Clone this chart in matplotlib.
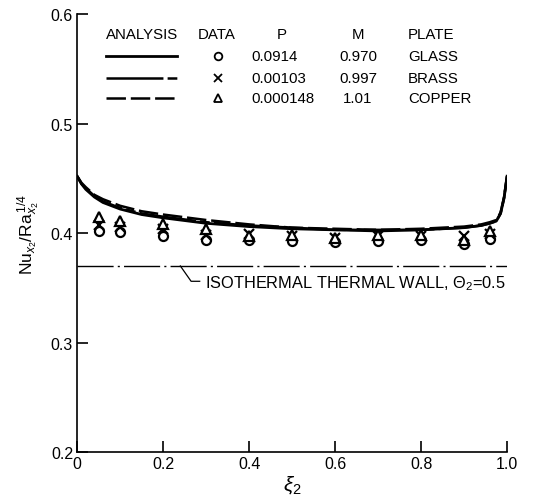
import matplotlib
matplotlib.use("Agg")
import matplotlib.pyplot as plt

plt.rcParams['font.family'] = ['Liberation Sans', 'DejaVu Sans']
plt.rcParams['mathtext.fontset'] = 'custom'
plt.rcParams['mathtext.rm'] = 'Liberation Sans'
plt.rcParams['mathtext.it'] = 'Liberation Sans:italic'
plt.rcParams['lines.scale_dashes'] = False

# ---- data ----
xi_analysis = [0.0, 0.01, 0.02, 0.04, 0.06, 0.10, 0.15, 0.20, 0.30, 0.40, 0.50,
               0.60, 0.70, 0.80, 0.90, 0.94, 0.96, 0.975, 0.985, 0.993, 1.0]
nu_glass = [0.452, 0.445, 0.440, 0.433, 0.428, 0.422, 0.417, 0.414, 0.409, 0.406, 0.404,
            0.403, 0.402, 0.403, 0.405, 0.407, 0.409, 0.411, 0.418, 0.432, 0.452]
nu_brass = [0.452, 0.445, 0.441, 0.434, 0.429, 0.423, 0.418, 0.415, 0.410, 0.407, 0.405,
            0.403, 0.403, 0.403, 0.405, 0.407, 0.409, 0.411, 0.418, 0.432, 0.452]
nu_copper = [0.452, 0.446, 0.442, 0.435, 0.431, 0.425, 0.420, 0.417, 0.412, 0.408, 0.405,
             0.404, 0.403, 0.404, 0.406, 0.408, 0.410, 0.412, 0.419, 0.433, 0.452]

xi_data = [0.05, 0.1, 0.2, 0.3, 0.4, 0.5, 0.6, 0.7, 0.8, 0.9, 0.96]
data_glass = [0.402, 0.401, 0.397, 0.394, 0.394, 0.393, 0.392, 0.393, 0.394, 0.390, 0.395]
data_brass = [0.407, 0.406, 0.404, 0.398, 0.399, 0.397, 0.396, 0.397, 0.397, 0.397, 0.399]
data_copper = [0.415, 0.411, 0.408, 0.404, 0.397, 0.398, 0.396, 0.398, 0.398, 0.394, 0.402]

isothermal_value = 0.370

legend_header = ["ANALYSIS", "DATA", "P", "M", "PLATE"]
legend_P = ["0.0914", "0.00103", "0.000148"]
legend_M = ["0.970", "0.997", "1.01"]
legend_plate = ["GLASS", "BRASS", "COPPER"]

x_ticks = [0, 0.2, 0.4, 0.6, 0.8, 1.0]
x_ticklabels = ["0", "0.2", "0.4", "0.6", "0.8", "1.0"]
y_ticks = [0.2, 0.3, 0.4, 0.5, 0.6]
y_ticklabels = ["0.2", "0.3", "0.4", "0.5", "0.6"]

# ---- figure ----
fig = plt.figure(figsize=(5.36, 5.02), dpi=100)
ax = fig.add_axes([0.144, 0.0976, 0.802, 0.872])
ax.set_xlim(0, 1.0)
ax.set_ylim(0.2, 0.6)

styles = [
    dict(linestyle='-', lw=2.0),
    dict(linestyle=(0, (41, 3, 7, 3)), lw=1.8),
    dict(linestyle=(0, (14, 3.5)), lw=1.8),
]
for yy, st in zip([nu_glass, nu_brass, nu_copper], styles):
    ax.plot(xi_analysis, yy, color='black', **st)

mk = dict(color='black', linestyle='none', markersize=6.5, markerfacecolor='white',
          markeredgewidth=1.6, clip_on=False)
ax.plot(xi_data, data_glass, marker='o', **mk)
ax.plot(xi_data, data_brass, marker='x', **mk)
ax.plot(xi_data, data_copper, marker='^', **mk)

# isothermal line
ax.axhline(isothermal_value, color='black', lw=1.0, linestyle=(0, (26, 3, 1.5, 3)))
ax.plot([0.24, 0.265, 0.285], [isothermal_value, 0.356, 0.356], color='black', lw=0.9)
ax.text(0.298, 0.355, r"ISOTHERMAL THERMAL WALL, $\Theta_2$=0.5", fontsize=11.8,
        va='center', ha='left')

# legend table
fs = 10.8
ax.text(0.067, 0.5817, legend_header[0], fontsize=fs, va='center', ha='left')
ax.text(0.281, 0.5817, legend_header[1], fontsize=fs, va='center', ha='left')
ax.text(0.477, 0.5817, legend_header[2], fontsize=fs, va='center', ha='center')
ax.text(0.653, 0.5817, legend_header[3], fontsize=fs, va='center', ha='center')
ax.text(0.770, 0.5817, legend_header[4], fontsize=fs, va='center', ha='left')
rows_y = [0.5616, 0.5416, 0.5233]
markers = ['o', 'x', '^']
for i, ry in enumerate(rows_y):
    ax.plot([0.067, 0.233], [ry, ry], color='black', **styles[i])
    ax.plot([0.328], [ry], marker=markers[i], color='black', markersize=5.5,
            markerfacecolor='white', markeredgewidth=1.3, linestyle='none')
    ax.text(0.405, ry, legend_P[i], fontsize=fs, va='center', ha='left')
    ax.text(0.653, ry, legend_M[i], fontsize=fs, va='center', ha='center')
    ax.text(0.770, ry, legend_plate[i], fontsize=fs, va='center', ha='left')

# axes styling
for s in ['top', 'right']:
    ax.spines[s].set_visible(False)
for s in ['left', 'bottom']:
    ax.spines[s].set_linewidth(1.2)
ax.set_xticks(x_ticks)
ax.set_xticklabels(x_ticklabels)
ax.set_yticks(y_ticks)
ax.set_yticklabels(y_ticklabels)
ax.tick_params(direction='in', length=8, width=1.2, labelsize=11.5, pad=3)

ax.set_xlabel(r"$\xi_2$", fontsize=15, labelpad=1)
ax.set_ylabel(r"$\mathrm{Nu}_{x_2}/\mathrm{Ra}_{x_2}^{\,1/4}$", fontsize=12.5, labelpad=6)

fig.savefig("out.png", dpi=100)
